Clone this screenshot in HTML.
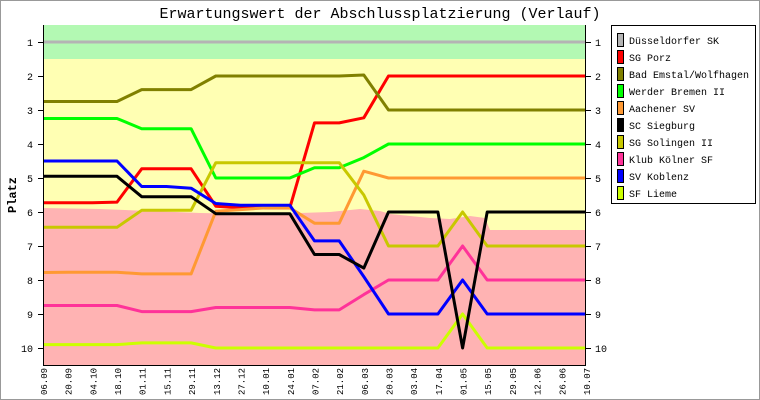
<!DOCTYPE html>
<html><head><meta charset="utf-8"><style>
html,body{margin:0;padding:0;background:#fff}
svg{display:block}
text{font-family:"Liberation Mono","DejaVu Sans Mono",monospace}
</style></head><body>
<svg width="760" height="400" viewBox="0 0 760 400" xmlns="http://www.w3.org/2000/svg">
<rect x="0.5" y="0.5" width="759" height="399" fill="#fff" stroke="#999"/>
<text x="380" y="18" font-size="15" text-anchor="middle" fill="#000">Erwartungswert der Abschlussplatzierung (Verlauf)</text>
<rect x="43" y="25" width="543" height="34" fill="#b3f9b3"/>
<rect x="43" y="59" width="543" height="306" fill="#ffffb3"/>
<polygon fill="#ffb3b3" points="43,208 100,209 150,211 200,213 250,214 300,213 330,212 360,209 380,211 390,214 410,216 430,218 450,219 470,216 485,218 490,230 586,230 586,365 43,365"/>
<g fill="none" stroke-width="3" stroke-linejoin="round">
<polyline stroke="#b4b4b4" points="43,42 586,42"/>
<polyline stroke="#ff0000" points="43.0,202.8 67.7,202.8 92.4,202.8 117.0,202.1 141.7,168.8 166.4,168.8 191.1,168.8 215.8,206.2 240.4,207.9 265.1,207.9 289.8,207.9 314.5,122.9 339.2,122.9 363.8,117.8 388.5,76 586,76"/>
<polyline stroke="#808000" points="43.0,101.5 117.0,101.5 141.7,89.6 191.1,89.6 215.8,76 339.2,76 363.8,75 388.5,110 586,110"/>
<polyline stroke="#00ff00" points="43.0,118.5 117.0,118.5 141.7,128.7 191.1,128.7 215.8,178 289.8,178 314.5,167.8 339.2,167.8 363.8,157.6 388.5,144 586,144"/>
<polyline stroke="#ff9933" points="43.0,272.5 67.7,272.2 117.0,272.2 141.7,273.9 191.1,273.9 215.8,211.3 240.4,209.6 265.1,207.9 289.8,207.9 314.5,223.2 339.2,223.2 363.8,171.2 388.5,178 586,178"/>
<polyline stroke="#c8c800" points="43.0,227.3 117.0,227.3 141.7,210.3 191.1,210.3 215.8,162.7 339.2,162.7 363.8,195 388.5,246 437.9,246 462.6,212 487.2,246 586,246"/>
<polyline stroke="#ff3399" points="43.0,305.5 117.0,305.5 141.7,311.6 191.1,311.6 215.8,307.5 289.8,307.5 314.5,309.9 339.2,309.9 363.8,294.6 388.5,280 437.9,280 462.6,246 487.2,280 586,280"/>
<polyline stroke="#0000ff" points="43.0,161 117.0,161 141.7,186.5 166.4,186.5 191.1,188.2 215.8,203.5 240.4,205.2 289.8,205.2 314.5,240.9 339.2,240.9 363.8,276.6 388.5,314 437.9,314 462.6,280 487.2,314 586,314"/>
<polyline stroke="#ccff00" points="43.0,344.6 117.0,344.6 141.7,342.9 191.1,342.9 215.8,348 437.9,348 462.6,314 487.2,348 586,348"/>
<polyline stroke="#000000" points="43.0,176.3 117.0,176.3 141.7,196.7 191.1,196.7 215.8,213.7 289.8,213.7 314.5,254.5 339.2,254.5 363.8,268.1 388.5,212 437.9,212 462.6,348 487.2,212 586,212"/>
</g>
<g stroke="#000" stroke-width="1">
<line x1="43.5" y1="25" x2="43.5" y2="365"/>
<line x1="585.5" y1="25" x2="585.5" y2="365"/>
<line x1="43" y1="365.5" x2="586" y2="365.5"/>
</g>
<g stroke="#000">
<line x1="38" y1="42.5" x2="43" y2="42.5"/><line x1="38" y1="76.5" x2="43" y2="76.5"/><line x1="38" y1="110.5" x2="43" y2="110.5"/><line x1="38" y1="144.5" x2="43" y2="144.5"/><line x1="38" y1="178.5" x2="43" y2="178.5"/><line x1="38" y1="212.5" x2="43" y2="212.5"/><line x1="38" y1="246.5" x2="43" y2="246.5"/><line x1="38" y1="280.5" x2="43" y2="280.5"/><line x1="38" y1="314.5" x2="43" y2="314.5"/><line x1="38" y1="348.5" x2="43" y2="348.5"/>
<line x1="586" y1="42.5" x2="591" y2="42.5"/><line x1="586" y1="76.5" x2="591" y2="76.5"/><line x1="586" y1="110.5" x2="591" y2="110.5"/><line x1="586" y1="144.5" x2="591" y2="144.5"/><line x1="586" y1="178.5" x2="591" y2="178.5"/><line x1="586" y1="212.5" x2="591" y2="212.5"/><line x1="586" y1="246.5" x2="591" y2="246.5"/><line x1="586" y1="280.5" x2="591" y2="280.5"/><line x1="586" y1="314.5" x2="591" y2="314.5"/><line x1="586" y1="348.5" x2="591" y2="348.5"/>
</g>
<g font-size="10" text-anchor="end">
<text x="33" y="46">1</text><text x="33" y="80">2</text><text x="33" y="114">3</text><text x="33" y="148">4</text><text x="33" y="182">5</text><text x="33" y="216">6</text><text x="33" y="250">7</text><text x="33" y="284">8</text><text x="33" y="318">9</text><text x="33" y="352">10</text>
</g>
<g font-size="10" text-anchor="start">
<text x="595" y="46">1</text><text x="595" y="80">2</text><text x="595" y="114">3</text><text x="595" y="148">4</text><text x="595" y="182">5</text><text x="595" y="216">6</text><text x="595" y="250">7</text><text x="595" y="284">8</text><text x="595" y="318">9</text><text x="595" y="352">10</text>
</g>
<text transform="translate(16,195) rotate(-90)" font-size="12" font-weight="bold" text-anchor="middle">Platz</text>
<g font-size="9" text-anchor="end">
<text transform="translate(47,395) rotate(-90)" text-anchor="start">06.09</text>
<text transform="translate(71.7,395) rotate(-90)" text-anchor="start">20.09</text>
<text transform="translate(96.4,395) rotate(-90)" text-anchor="start">04.10</text>
<text transform="translate(121,395) rotate(-90)" text-anchor="start">18.10</text>
<text transform="translate(145.7,395) rotate(-90)" text-anchor="start">01.11</text>
<text transform="translate(170.4,395) rotate(-90)" text-anchor="start">15.11</text>
<text transform="translate(195.1,395) rotate(-90)" text-anchor="start">29.11</text>
<text transform="translate(219.8,395) rotate(-90)" text-anchor="start">13.12</text>
<text transform="translate(244.4,395) rotate(-90)" text-anchor="start">27.12</text>
<text transform="translate(269.1,395) rotate(-90)" text-anchor="start">10.01</text>
<text transform="translate(293.8,395) rotate(-90)" text-anchor="start">24.01</text>
<text transform="translate(318.5,395) rotate(-90)" text-anchor="start">07.02</text>
<text transform="translate(343.2,395) rotate(-90)" text-anchor="start">21.02</text>
<text transform="translate(367.8,395) rotate(-90)" text-anchor="start">06.03</text>
<text transform="translate(392.5,395) rotate(-90)" text-anchor="start">20.03</text>
<text transform="translate(417.2,395) rotate(-90)" text-anchor="start">03.04</text>
<text transform="translate(441.9,395) rotate(-90)" text-anchor="start">17.04</text>
<text transform="translate(466.6,395) rotate(-90)" text-anchor="start">01.05</text>
<text transform="translate(491.2,395) rotate(-90)" text-anchor="start">15.05</text>
<text transform="translate(515.9,395) rotate(-90)" text-anchor="start">29.05</text>
<text transform="translate(540.6,395) rotate(-90)" text-anchor="start">12.06</text>
<text transform="translate(565.3,395) rotate(-90)" text-anchor="start">26.06</text>
<text transform="translate(590,395) rotate(-90)" text-anchor="start">10.07</text>
</g>
<rect x="611.5" y="25.5" width="144" height="178" fill="#fff" stroke="#000"/>
<g stroke="#000" stroke-width="1">
<rect x="617.5" y="33.5" width="6" height="13" fill="#b4b4b4"/>
<rect x="617.5" y="50.5" width="6" height="13" fill="#ff0000"/>
<rect x="617.5" y="67.5" width="6" height="13" fill="#808000"/>
<rect x="617.5" y="84.5" width="6" height="13" fill="#00ff00"/>
<rect x="617.5" y="101.5" width="6" height="13" fill="#ff9933"/>
<rect x="617.5" y="118.5" width="6" height="13" fill="#000000"/>
<rect x="617.5" y="135.5" width="6" height="13" fill="#c8c800"/>
<rect x="617.5" y="152.5" width="6" height="13" fill="#ff3399"/>
<rect x="617.5" y="169.5" width="6" height="13" fill="#0000ff"/>
<rect x="617.5" y="186.5" width="6" height="13" fill="#ccff00"/>
</g>
<g font-size="10">
<text x="629" y="44">Düsseldorfer SK</text>
<text x="629" y="61">SG Porz</text>
<text x="629" y="78">Bad Emstal/Wolfhagen</text>
<text x="629" y="95">Werder Bremen II</text>
<text x="629" y="112">Aachener SV</text>
<text x="629" y="129">SC Siegburg</text>
<text x="629" y="146">SG Solingen II</text>
<text x="629" y="163">Klub Kölner SF</text>
<text x="629" y="180">SV Koblenz</text>
<text x="629" y="197">SF Lieme</text>
</g>
</svg>
</body></html>
